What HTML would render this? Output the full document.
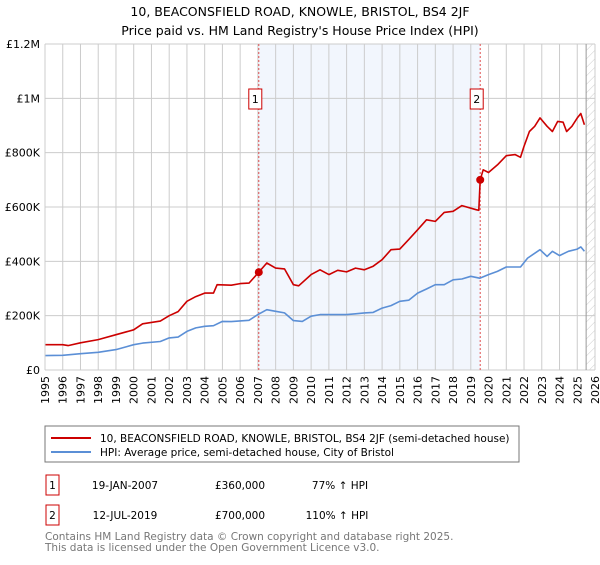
<!DOCTYPE html>
<html><head><meta charset="utf-8"><style>
body{margin:0;background:#fff;font-family:"Liberation Sans","DejaVu Sans",sans-serif;}
svg text{font-family:"DejaVu Sans","Liberation Sans",sans-serif;}
</style></head><body>
<svg id="c" width="600" height="560" xmlns="http://www.w3.org/2000/svg">
<text x="300" y="16" text-anchor="middle" font-size="12.5">10, BEACONSFIELD ROAD, KNOWLE, BRISTOL, BS4 2JF</text>
<text x="300" y="35" text-anchor="middle" font-size="12.5">Price paid vs. HM Land Registry's House Price Index (HPI)</text>
<g id="plot"></g>
<rect x="45" y="426" width="474" height="36" fill="#fff" stroke="#777"/>
<line x1="51" y1="438" x2="91" y2="438" stroke="#cc0000" stroke-width="2"/>
<text x="100" y="442" font-size="10.5">10, BEACONSFIELD ROAD, KNOWLE, BRISTOL, BS4 2JF (semi-detached house)</text>
<line x1="51" y1="452" x2="91" y2="452" stroke="#5b8fd6" stroke-width="2"/>
<text x="100" y="456" font-size="10.5">HPI: Average price, semi-detached house, City of Bristol</text>
<g font-size="10.5">
<rect x="46" y="475" width="13" height="20" fill="#fff" stroke="#cc0000"/>
<text x="52.5" y="489" text-anchor="middle">1</text>
<text x="125" y="489" text-anchor="middle">19-JAN-2007</text>
<text x="240" y="489" text-anchor="middle">£360,000</text>
<text x="340" y="489" text-anchor="middle">77% ↑ HPI</text>
<rect x="46" y="505" width="13" height="20" fill="#fff" stroke="#cc0000"/>
<text x="52.5" y="519" text-anchor="middle">2</text>
<text x="125" y="519" text-anchor="middle">12-JUL-2019</text>
<text x="240" y="519" text-anchor="middle">£700,000</text>
<text x="337" y="519" text-anchor="middle">110% ↑ HPI</text>
</g>
<text x="45" y="540" font-size="10.5" fill="#777">Contains HM Land Registry data © Crown copyright and database right 2025.</text>
<text x="45" y="551" font-size="10.5" fill="#777">This data is licensed under the Open Government Licence v3.0.</text>
</svg>
<script>
const years=[1995,1996,1997,1998,1999,2000,2001,2002,2003,2004,2005,2006,2007,2008,2009,2010,2011,2012,2013,2014,2015,2016,2017,2018,2019,2020,2021,2022,2023,2024,2025,2026];
const yTicks=[0,200000,400000,600000,800000,1000000,1200000];
const yTickLabels=["£0","£200K","£400K","£600K","£800K","£1M","£1.2M"];
const priceT=[1995,1996,1996.3,1997,1998,1999,2000,2000.5,2001.5,2002,2002.5,2003,2003.5,2004,2004.5,2004.7,2005.5,2006,2006.5,2007.05,2007.5,2008,2008.5,2009,2009.3,2010,2010.5,2011,2011.5,2012,2012.5,2013,2013.5,2014,2014.5,2015,2015.5,2016,2016.5,2017,2017.5,2018,2018.5,2019.3,2019.45,2019.53,2019.7,2020,2020.5,2021,2021.5,2021.8,2022,2022.3,2022.6,2022.9,2023.3,2023.6,2023.9,2024.2,2024.4,2024.7,2025,2025.2,2025.4];
const priceV=[93,93,90,100,112,130,148,170,180,200,215,253,270,283,283,314,312,318,320,360,394,375,372,314,310,351,369,351,367,361,375,369,382,406,443,445,480,516,553,547,580,584,605,590,588,700,737,727,755,789,793,783,823,878,897,928,897,878,915,912,878,897,928,944,903];
const hpiT=[1995,1996,1997,1998,1999,2000,2000.5,2001.5,2002,2002.5,2003,2003.5,2004,2004.5,2005,2005.5,2006.5,2007,2007.5,2008,2008.5,2009,2009.5,2010,2010.5,2011,2011.5,2012,2012.5,2013,2013.5,2014,2014.5,2015,2015.5,2016,2016.5,2017,2017.5,2018,2018.5,2019,2019.5,2020,2020.5,2021,2021.8,2022.2,2022.9,2023.3,2023.6,2024,2024.5,2025,2025.2,2025.4];
const hpiV=[53,54,60,65,75,93,99,105,118,121,142,155,161,163,179,178,183,204,222,216,210,182,179,198,204,204,204,204,207,210,212,228,237,253,257,283,298,314,314,332,335,345,338,351,363,379,379,412,443,418,437,421,437,445,453,437];
const saleT=[2007.05,2019.53];
const saleV=[360,700];
const saleLabels=["1","2"];

const X0=45,X1=595,Y0=370,Y1=44;
const xs=t=>X0+(t-1995)/(2026-1995)*(X1-X0);
const ys=v=>Y0-v/1200000*(Y0-Y1);
const NS="http://www.w3.org/2000/svg";
const g=document.getElementById('plot');
function mk(tag,attrs){const e=document.createElementNS(NS,tag);for(const k in attrs)e.setAttribute(k,attrs[k]);g.appendChild(e);return e;}
let e=mk('rect',{x:xs(saleT[0]),y:Y1,width:xs(saleT[1])-xs(saleT[0]),height:Y0-Y1,fill:'#eef3fc',opacity:0.75});


const defs=document.createElementNS(NS,'defs');defs.innerHTML='<pattern id="h" width="6" height="6" patternUnits="userSpaceOnUse" patternTransform="rotate(45)"><line x1="0" y1="0" x2="0" y2="6" stroke="#ccc" stroke-width="1"/></pattern>';g.appendChild(defs);
e=mk('rect',{x:xs(2025.5),y:Y1,width:X1-xs(2025.5),height:Y0-Y1,fill:'url(#h)'});


years.forEach(y=>{
 const l=mk('line',{x1:xs(y),x2:xs(y),y1:Y1,y2:Y0,stroke:'#ccc','stroke-width':1});
 
 
 const t=mk('text',{x:0,y:0,'font-size':11,'text-anchor':'end',transform:`translate(${xs(y)+4},${Y0+6}) rotate(-90)`});
 t.textContent=y;
 
 
});
yTicks.forEach((v,i)=>{
 const l=mk('line',{x1:X0,x2:X1,y1:ys(v),y2:ys(v),stroke:'#ccc','stroke-width':1});
 
 
 const t=mk('text',{x:X0-5,y:ys(v)+4,'font-size':11,'text-anchor':'end'});
 t.textContent=yTickLabels[i];
 
 
});
e=mk('line',{x1:xs(2025.5),x2:xs(2025.5),y1:Y1,y2:Y0,stroke:'#999','stroke-width':1});


saleT.forEach((t,i)=>{
 const l=mk('line',{x1:xs(t),x2:xs(t),y1:Y1,y2:Y0,stroke:'#e05050','stroke-width':1,'stroke-dasharray':'2,2'});
 
 
});
function path(T,V,col,name){
 const d=T.map((t,i)=>(i?'L':'M')+xs(t).toFixed(1)+','+ys(V[i]*1000).toFixed(1)).join('');
 const p=mk('path',{d:d,fill:'none',stroke:col,'stroke-width':1.6,'stroke-linejoin':'round'});
 
 
}
path(hpiT,hpiV,'#5b8fd6','hpi-line');
path(priceT,priceV,'#cc0000','price-line');
saleT.forEach((t,i)=>{
 const c=mk('circle',{cx:xs(t),cy:ys(saleV[i]*1000),r:4,fill:'#cc0000'});
 
 
 const cx=xs(t)-3.5;
 const r=mk('rect',{x:cx-6.5,y:89,width:13,height:20,fill:'#fff',stroke:'#cc0000'});
 
 
 const tx=mk('text',{x:cx,y:103,'font-size':11,'text-anchor':'middle'});
 tx.textContent=saleLabels[i];
 
 
});
e=mk('line',{x1:X0,x2:X0,y1:Y1,y2:Y0,stroke:'#ccc'});


</script>
</body></html>
